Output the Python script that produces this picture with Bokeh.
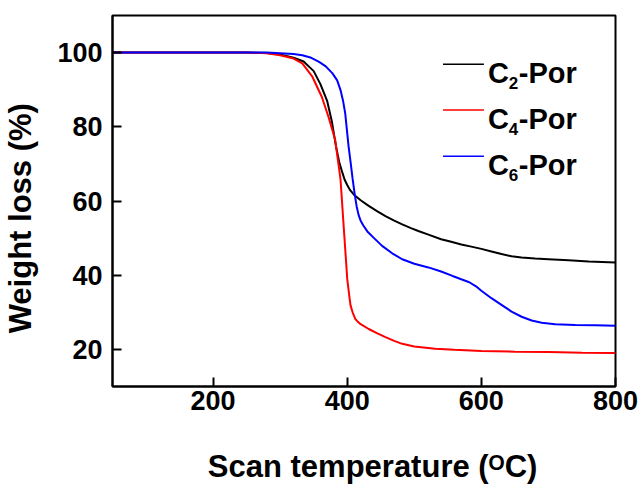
import numpy as np
from bokeh.plotting import figure
from bokeh.models import Label, FixedTicker
from bokeh.embed import file_html
from bokeh.resources import INLINE

# ---- data ----
c2_temp = [50, 100, 150, 200, 250, 280, 300, 320, 335, 350, 360, 370, 377, 383, 388, 393, 396,
           400, 404, 410, 420, 432, 445, 457, 470, 482, 495, 506, 520, 540, 555, 570, 585, 600,
           615, 630, 645, 660, 680, 700, 730, 760, 800]
c2_wt = [100, 100, 100, 100, 100, 99.9, 99.5, 98.6, 97.6, 95.0, 91.5, 87.0, 81.5, 75.0, 70.5, 67.5, 65.8,
         64.3, 63.0, 61.7, 60.2, 58.7, 57.2, 55.9, 54.7, 53.7, 52.7, 51.9, 51.0, 49.7, 49.0, 48.3, 47.7, 47.1,
         46.4, 45.7, 45.1, 44.8, 44.5, 44.3, 44.0, 43.7, 43.4]

c4_temp = [50, 100, 150, 200, 250, 280, 300, 320, 333, 348, 362, 372, 382, 390, 395, 400, 403, 405,
           408, 412, 415, 420, 432, 445, 457, 470, 482, 500, 531, 560, 600, 650, 700, 750, 800]
c4_wt = [100, 100, 100, 100, 100, 99.8, 99.3, 98.4, 97.1, 93.5, 88.1, 82.7, 76.5, 65.8, 52.4, 39.0, 34.5, 31.8,
         30.0, 28.2, 27.6, 26.8, 25.5, 24.3, 23.3, 22.3, 21.5, 20.8, 20.2, 19.9, 19.6, 19.4, 19.3, 19.1, 19.0]

c6_temp = [50, 100, 150, 200, 250, 280, 300, 320, 333, 345, 358, 368, 378, 385, 390, 394, 397, 402,
           405, 408, 411, 414, 417, 420, 424, 430, 440, 452, 467, 482, 500, 521, 540, 557, 570, 582, 592, 600,
           615, 630, 645, 660, 675, 690, 710, 740, 770, 800]
c6_wt = [100, 100, 100, 100, 100, 100, 99.8, 99.6, 99.3, 98.7, 97.5, 96.3, 94.4, 92.5, 89.9, 86.8, 83.6, 74.7,
         70.5, 66.0, 62.0, 58.6, 56.2, 54.7, 53.4, 51.8, 50.0, 47.9, 45.9, 44.3, 43.1, 42.1, 41.0, 39.8, 38.9,
         38.1, 37.0, 35.8, 33.8, 32.0, 30.2, 28.8, 27.8, 27.2, 26.8, 26.6, 26.5, 26.4]

series_names = ["2", "4", "6"]
series_colors = ["#000000", "#ff0000", "#0000ff"]
x_ticks = [200, 400, 600, 800]
y_ticks = [20, 40, 60, 80, 100]

FONT = "Liberation Sans"
NB = "\u00a0"

p = figure(width=643, height=486, output_backend="svg", toolbar_location=None,
           x_range=(50, 800), y_range=(10, 110),
           min_border_left=110, min_border_right=28, min_border_top=15, min_border_bottom=98)
p.grid.visible = False
p.background_fill_color = "white"
p.outline_line_color = "black"
p.outline_line_width = 2

for ax in (p.xaxis[0], p.yaxis[0]):
    ax.axis_line_width = 2
    ax.axis_line_color = "black"
    ax.major_tick_line_width = 2
    ax.major_tick_in = 9
    ax.major_tick_out = 0
    ax.minor_tick_line_color = None
    ax.major_label_text_font = FONT
    ax.major_label_text_font_style = "bold"
    ax.major_label_text_font_size = "27px"
    ax.major_label_text_color = "black"
    ax.axis_label_text_font = FONT
    ax.axis_label_text_font_style = "bold"
    ax.axis_label_text_font_size = "31px"
    ax.axis_label_text_color = "black"
p.xaxis.ticker = FixedTicker(ticks=x_ticks)
p.yaxis.ticker = FixedTicker(ticks=y_ticks)
p.xaxis.major_label_standoff = 4
p.yaxis.major_label_standoff = 10
p.xaxis.axis_label = NB * 2 + "Scan temperature (\u1d3cC)"
p.yaxis.axis_label = "Weight loss (%)" + NB * 4
p.xaxis.axis_label_standoff = 36
p.yaxis.axis_label_standoff = 16

for t, w, c in zip([c2_temp, c4_temp, c6_temp], [c2_wt, c4_wt, c6_wt], series_colors):
    p.line(t, w, line_color=c, line_width=2)

# ---- layout helpers (page pixel -> data, only for legend placement) ----
def dx(px):
    return 50 + (px - 110.5) * 750.0 / 504.5

def dy(py):
    return 110 - (py - 15) * 100.0 / 373.0

rows_py = [64, 110, 156.5]
for name, col, ry in zip(series_names, series_colors, rows_py):
    p.line([dx(442), dx(483)], [dy(ry), dy(ry)], line_color=col, line_width=1.5)
    p.add_layout(Label(x=dx(487), y=dy(ry + 9), text="C", text_font=FONT, text_font_style="bold",
                       text_font_size="29px", text_color="black",
                       text_baseline="alphabetic", text_align="left"))
    p.add_layout(Label(x=dx(508), y=dy(ry + 19), text=name, text_font=FONT, text_font_style="bold",
                       text_font_size="17px", text_color="black",
                       text_baseline="alphabetic", text_align="left"))
    p.add_layout(Label(x=dx(518), y=dy(ry + 9), text="-Por", text_font=FONT, text_font_style="bold",
                       text_font_size="29px", text_color="black",
                       text_baseline="alphabetic", text_align="left"))

open("out.html", "w").write(file_html(p, INLINE))
